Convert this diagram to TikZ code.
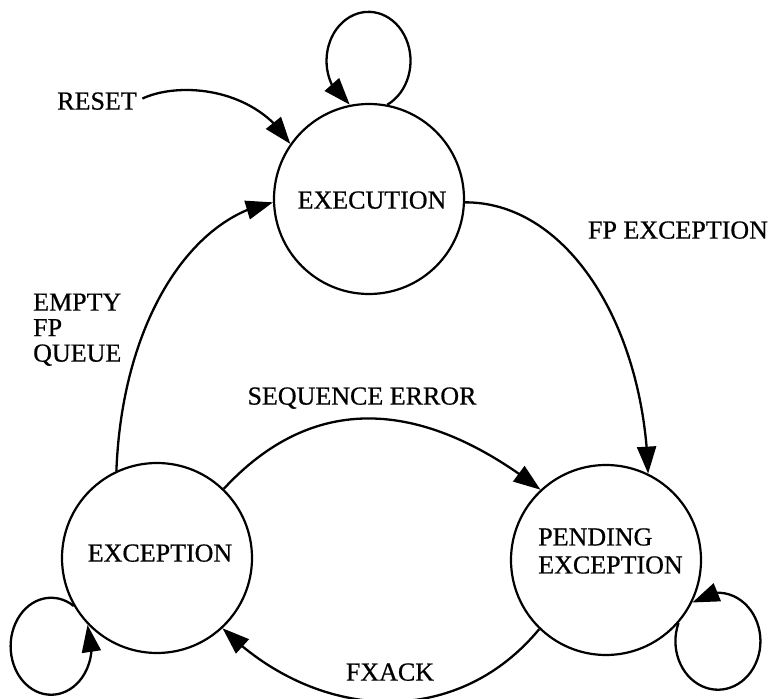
\documentclass[tikz,border=0pt]{standalone}
\usepackage{fontspec}
\setmainfont{Liberation Serif}[FakeBold=0.6]
\usetikzlibrary{arrows.meta,bending}
\begin{document}
\begin{tikzpicture}[x=1pt,y=1pt,
  state/.style={circle,draw,line width=2.2pt,minimum size=190pt,inner sep=0pt},
  lbl/.style={inner sep=0pt,font=\fontsize{26}{26}\selectfont},
  edge/.style={line width=2.3pt,-{Triangle[length=27pt,width=19pt]}},
]
\useasboundingbox (0,0) rectangle (772,699);

% states
\node[state] (exe)  at (369,500) {};
\node[state] (ex)   at (157,141) {};
\node[state] (pend) at (606,139) {};

% state names
\node[lbl,anchor=base] (exe-t) at (372,490.4) {EXECUTION};
\node[lbl,anchor=base] (ex-t)  at (160,137.4) {EXCEPTION};
\node[lbl,align=left,font=\fontsize{26}{28}\selectfont] (pend-t) at (610.5,148) {PENDING\\EXCEPTION};

% transition labels
\node[lbl,anchor=base] (reset) at (97,589.4) {RESET};
\node[lbl,anchor=base] (fpexc) at (678,460.4) {FP EXCEPTION};
\node[lbl,anchor=base] (seqerr) at (362,294.4) {SEQUENCE ERROR};
\node[lbl,anchor=base] (fxack) at (390,18.4) {FXACK};
\node[lbl,anchor=north west,align=left,font=\fontsize{26}{25.5}\selectfont] (empty) at (33,405.6) {EMPTY\\FP\\QUEUE};

% transitions
\draw[edge,shorten <=6pt] (reset.east) .. controls (180,618) and (255,612) .. (exe.145);
\draw[edge] (exe.-2) .. controls (566,497) and (644,376) .. (pend.64.5);
\draw[edge] (ex.115.5) .. controls (122,376) and (190,482) .. (exe.182);
\draw[edge] (ex.46) .. controls (317,311) and (428,297) .. (pend.133);
\draw[edge] (pend.-134) .. controls (455,-32) and (315,-22) .. (ex.-47);

% self loops
\draw[edge] (exe.79) arc[start angle=-63.4, end angle=243.4, x radius=42, y radius=49];
\draw[edge] (ex.-150) arc[start angle=56, end angle=386, x radius=40.5, y radius=48.5];
\draw[edge] (pend.-41) arc[start angle=158, end angle=487, x radius=42.5, y radius=48.5];
\end{tikzpicture}
\end{document}
